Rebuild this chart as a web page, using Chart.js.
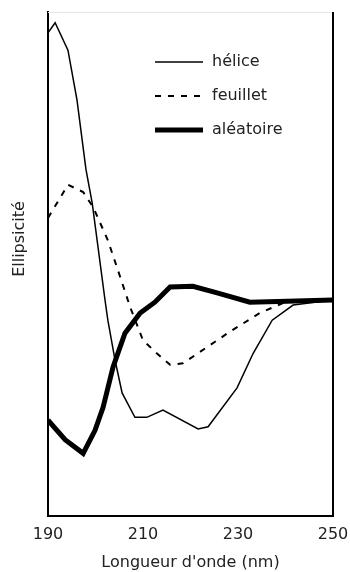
<!DOCTYPE html>
<html>
<head>
<meta charset="utf-8">
<script src="https://cdn.jsdelivr.net/npm/chart.js@4/dist/chart.umd.min.js"></script>
<style>
  html, body { margin: 0; padding: 0; background: #fff; }
  #wrap { position: relative; width: 350px; height: 572px; }
</style>
</head>
<body>
<div id="wrap"><canvas id="cd"></canvas></div>
<script>
// longueurs d'onde (nm) et ellipticité (unités arbitraires)
const heliceNm = [190, 191.5, 194.2, 196.1, 198, 199.3, 202, 202.6, 204.1, 205.6, 208.3, 210.8, 214.2, 221.6, 223.7, 229.8, 233.2, 237.2, 241.6, 250];
const heliceVal = [37.1, 38.5, 34.7, 27.8, 18.1, 13.5, 0, -2.8, -8.3, -12.9, -16.3, -16.3, -15.3, -17.9, -17.6, -12.2, -7.4, -2.8, -0.7, 0];

const feuilletNm = [190, 194.2, 197.4, 199.5, 202.6, 205.2, 207.3, 210, 212.9, 215.7, 218.4, 222, 228.3, 234.6, 241, 250];
const feuilletVal = [11.4, 16.0, 15.0, 12.9, 8.3, 3.2, -1.0, -5.6, -7.4, -9.0, -8.8, -7.2, -4.4, -1.8, 0, 0];

const aleatoireNm = [190, 193.6, 197.4, 199.9, 201.6, 203.7, 206.2, 209.4, 212.5, 215.7, 220.5, 225.6, 232.5, 250];
const aleatoireVal = [-16.7, -19.4, -21.3, -18.1, -14.9, -9.3, -4.6, -1.8, -0.3, 1.8, 1.9, 1.0, -0.3, 0];

const labelsSeries = ["hélice", "feuillet", "aléatoire"];
const xTicks = [190, 210, 230, 250];
const titreX = "Longueur d'onde (nm)";
const titreY = "Ellipsicité";

const police = "'DejaVu Sans', sans-serif";

function points(xs, ys) {
  return xs.map((x, i) => ({ x: x, y: ys[i] }));
}

// cadre (droite + haut pâle), titre Y et légende dans la zone du graphique
const cadrePlugin = {
  id: "cadre",
  afterDraw(chart) {
    const ctx = chart.ctx;
    const a = chart.chartArea;
    ctx.save();
    ctx.strokeStyle = "#e6e6e6";
    ctx.lineWidth = 1;
    ctx.beginPath();
    ctx.moveTo(a.left, a.top + 0.5);
    ctx.lineTo(a.right, a.top + 0.5);
    ctx.stroke();
    ctx.strokeStyle = "#000";
    ctx.lineWidth = 2;
    ctx.beginPath();
    ctx.moveTo(a.right, a.top);
    ctx.lineTo(a.right, a.bottom + 1);
    ctx.stroke();

    // titre de l'axe Y
    ctx.fillStyle = "#222";
    ctx.font = "16px " + police;
    ctx.textAlign = "center";
    ctx.textBaseline = "middle";
    ctx.translate(20, a.top + 227);
    ctx.rotate(-Math.PI / 2);
    ctx.fillText(titreY, 0, 0);
    ctx.restore();

    // légende
    ctx.save();
    ctx.font = "16px " + police;
    ctx.textAlign = "left";
    ctx.textBaseline = "middle";
    chart.data.datasets.forEach((ds, i) => {
      const y = a.top + 50 + i * 34;
      const x0 = a.left + 107;
      ctx.strokeStyle = ds.borderColor;
      ctx.lineWidth = ds.borderWidth;
      ctx.setLineDash(ds.borderDash || []);
      ctx.beginPath();
      ctx.moveTo(x0, y);
      ctx.lineTo(x0 + 48, y);
      ctx.stroke();
      ctx.setLineDash([]);
      ctx.fillStyle = "#222";
      ctx.fillText(ds.label, x0 + 57, y);
    });
    ctx.restore();
  },
};

new Chart(document.getElementById("cd"), {
  type: "line",
  data: {
    datasets: [
      {
        label: labelsSeries[0],
        data: points(heliceNm, heliceVal),
        borderColor: "#000",
        borderWidth: 1.5,
        pointRadius: 0,
        tension: 0,
      },
      {
        label: labelsSeries[1],
        data: points(feuilletNm, feuilletVal),
        borderColor: "#000",
        borderWidth: 2,
        borderDash: [6, 7],
        pointRadius: 0,
        tension: 0,
      },
      {
        label: labelsSeries[2],
        data: points(aleatoireNm, aleatoireVal),
        borderColor: "#000",
        borderWidth: 5,
        pointRadius: 0,
        tension: 0,
      },
    ],
  },
  options: {
    responsive: true,
    maintainAspectRatio: false,
    animation: false,
    layout: { padding: { top: 12, right: 17, left: 0, bottom: 0 } },
    plugins: {
      legend: { display: false },
      tooltip: { enabled: false },
    },
    scales: {
      x: {
        type: "linear",
        min: 190,
        max: 250,
        afterBuildTicks: (s) => {
          s.ticks = xTicks.map((v) => ({ value: v }));
        },
        afterFit: (s) => {
          s.height = 56;
          s.paddingLeft = 0;
          s.paddingRight = 0;
        },
        grid: { display: false, drawTicks: false },
        border: { display: true, color: "#000", width: 2 },
        ticks: {
          padding: 9,
          color: "#222",
          font: { family: police, size: 16 },
          maxRotation: 0,
        },
        title: {
          display: true,
          text: titreX,
          color: "#222",
          font: { family: police, size: 16 },
          padding: { top: 3, bottom: 0 },
        },
      },
      y: {
        min: -30,
        max: 40,
        afterFit: (s) => {
          s.width = 48;
        },
        grid: { display: false, drawTicks: false },
        border: { display: true, color: "#000", width: 2 },
        ticks: { display: false },
      },
    },
  },
  plugins: [cadrePlugin],
});
</script>
</body>
</html>
